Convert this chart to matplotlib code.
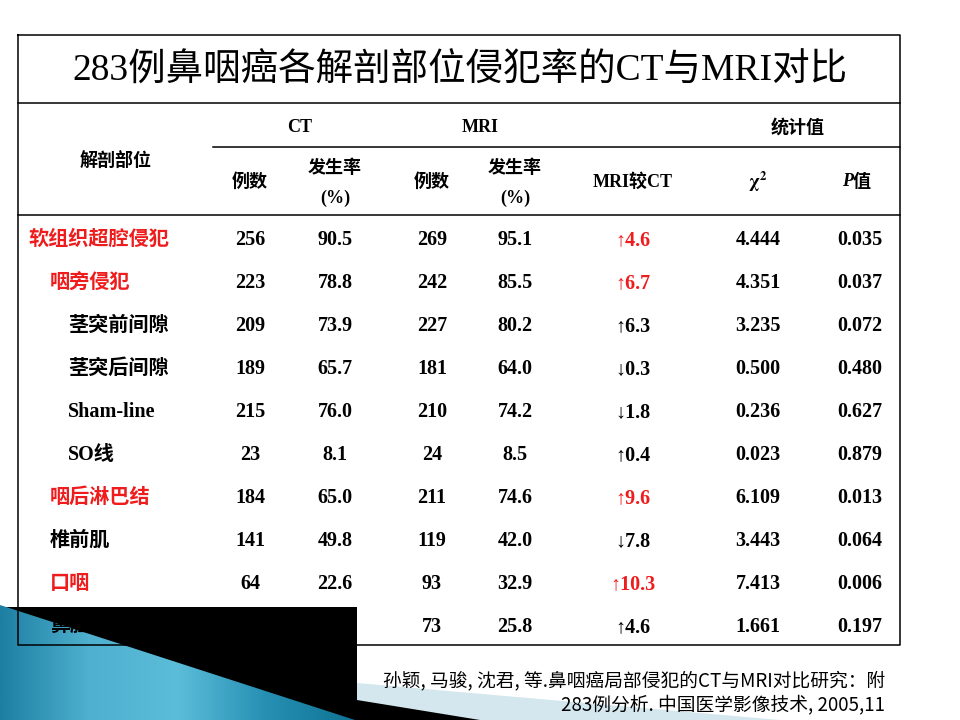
import numpy as np
import matplotlib.pyplot as plt
from matplotlib.patches import Polygon, Rectangle
from matplotlib.colors import LinearSegmentedColormap

SERIF = ["Liberation Serif", "Noto Sans CJK SC", "DejaVu Serif"]
SANS = ["Noto Sans CJK SC", "DejaVu Sans"]

title = "283例鼻咽癌各解剖部位侵犯率的CT与MRI对比"
citation = ["孙颖, 马骏, 沈君, 等.鼻咽癌局部侵犯的CT与MRI对比研究：附",
            "283例分析. 中国医学影像技术, 2005,11"]

labels = ["软组织超腔侵犯", "咽旁侵犯", "茎突前间隙", "茎突后间隙", "Sham-line",
          "SO线", "咽后淋巴结", "椎前肌", "口咽", "鼻腔"]
levels = [0, 1, 2, 2, 2, 2, 1, 1, 1, 1]
highlight = [True, True, False, False, False, False, True, False, True, False]
label_red = [True, True, False, False, False, False, True, False, True, False]
ct_n = ["256", "223", "209", "189", "215", "23", "184", "141", "64", "60"]
ct_rate = ["90.5", "78.8", "73.9", "65.7", "76.0", "8.1", "65.0", "49.8", "22.6", "21.2"]
mri_n = ["269", "242", "227", "181", "210", "24", "211", "119", "93", "73"]
mri_rate = ["95.1", "85.5", "80.2", "64.0", "74.2", "8.5", "74.6", "42.0", "32.9", "25.8"]
diff = ["↑4.6", "↑6.7", "↑6.3", "↓0.3", "↓1.8", "↑0.4", "↑9.6", "↓7.8", "↑10.3", "↑4.6"]
chi2 = ["4.444", "4.351", "3.235", "0.500", "0.236", "0.023", "6.109", "3.443", "7.413", "1.661"]
pvals = ["0.035", "0.037", "0.072", "0.480", "0.627", "0.879", "0.013", "0.064", "0.006", "0.197"]

RED = "#ee1c1c"

fig = plt.figure(figsize=(9.6, 7.2), dpi=100)
ax = fig.add_axes([0, 0, 1, 1])
ax.set_xlim(0, 960)
ax.set_ylim(720, 0)
ax.axis("off")

# decoration in lower left corner
ax.add_patch(Polygon([(357, 683), (357, 720), (780, 720)], closed=True,
                     facecolor="#d4e7ee", edgecolor="none", zorder=1))
ax.add_patch(Polygon([(357, 700), (357, 720), (480, 720)], closed=True,
                     facecolor="black", edgecolor="none", zorder=1))
ax.add_patch(Rectangle((0, 607), 357, 113, facecolor="black", edgecolor="none", zorder=2))
tri = Polygon([(0, 605), (0, 720), (355, 720)], closed=True, facecolor="none",
              edgecolor="none", zorder=3)
ax.add_patch(tri)
cmap = LinearSegmentedColormap.from_list("blu", ["#1d7fa2", "#4fb0cf", "#5cbdd9", "#2690b3", "#0f7394"])
grad = np.linspace(0, 1, 256).reshape(1, -1)
im = ax.imshow(grad, cmap=cmap, extent=(0, 355, 720, 605), aspect="auto", zorder=3)
im.set_clip_path(tri)

# table frame
lk = dict(color="black", lw=1.1, zorder=5)
ax.plot([18, 900, 900, 18, 18], [35, 35, 645, 645, 35], **lk)
ax.plot([18, 900], [103, 103], **lk)
ax.plot([213, 900], [147, 147], **lk)
ax.plot([18, 900], [215, 215], **lk)

ax.text(460, 71, title, fontsize=27, family=SERIF, weight="medium",
        ha="center", va="center", zorder=6)

hk = dict(fontsize=13, family=SERIF, weight="bold", ha="center", va="center", zorder=6)
ax.text(300, 128, "CT", **hk)
ax.text(480, 128, "MRI", **hk)
ax.text(798, 128, "统计值", **hk)
ax.text(116, 161, "解剖部位", **hk)
for x in (250, 432):
    ax.text(x, 182, "例数", **hk)
for x in (335, 515):
    ax.text(x, 168, "发生率", **hk)
    ax.text(x, 198, "(%)", **hk)
ax.text(633, 182, "MRI较CT", **hk)
ax.text(758, 182, r"$\mathbf{\chi^2}$", fontsize=13, ha="center", va="center", zorder=6,
        math_fontfamily="stix")
ax.text(853, 182, "P", fontsize=13, family=SERIF, weight="bold", style="italic",
        ha="right", va="center", zorder=6)
ax.text(853, 182, "值", fontsize=13, family=SERIF, weight="bold", ha="left",
        va="center", zorder=6)

row_y0, row_dy = 240, 43
indent = [28, 50, 68]
bk = dict(fontsize=14.5, family=SERIF, weight="bold", va="center", zorder=6)
for i, lab in enumerate(labels):
    y = row_y0 + i * row_dy
    ax.text(indent[levels[i]], y, lab, ha="left",
            color=RED if label_red[i] else "black", **bk)
    cols = [(250, ct_n[i]), (335, ct_rate[i]), (432, mri_n[i]), (515, mri_rate[i]),
            (758, chi2[i]), (860, pvals[i])]
    for x, v in cols:
        ax.text(x, y, v, ha="center", color="black", **bk)
    ax.text(633, y, diff[i], ha="center", color=RED if highlight[i] else "black", **bk)

ax.text(885, 681, citation[0], fontsize=13.5, family=SANS, ha="right", va="center", zorder=6)
ax.text(885, 705, citation[1], fontsize=13.5, family=SANS, ha="right", va="center", zorder=6)

fig.savefig("out.png", dpi=100)
